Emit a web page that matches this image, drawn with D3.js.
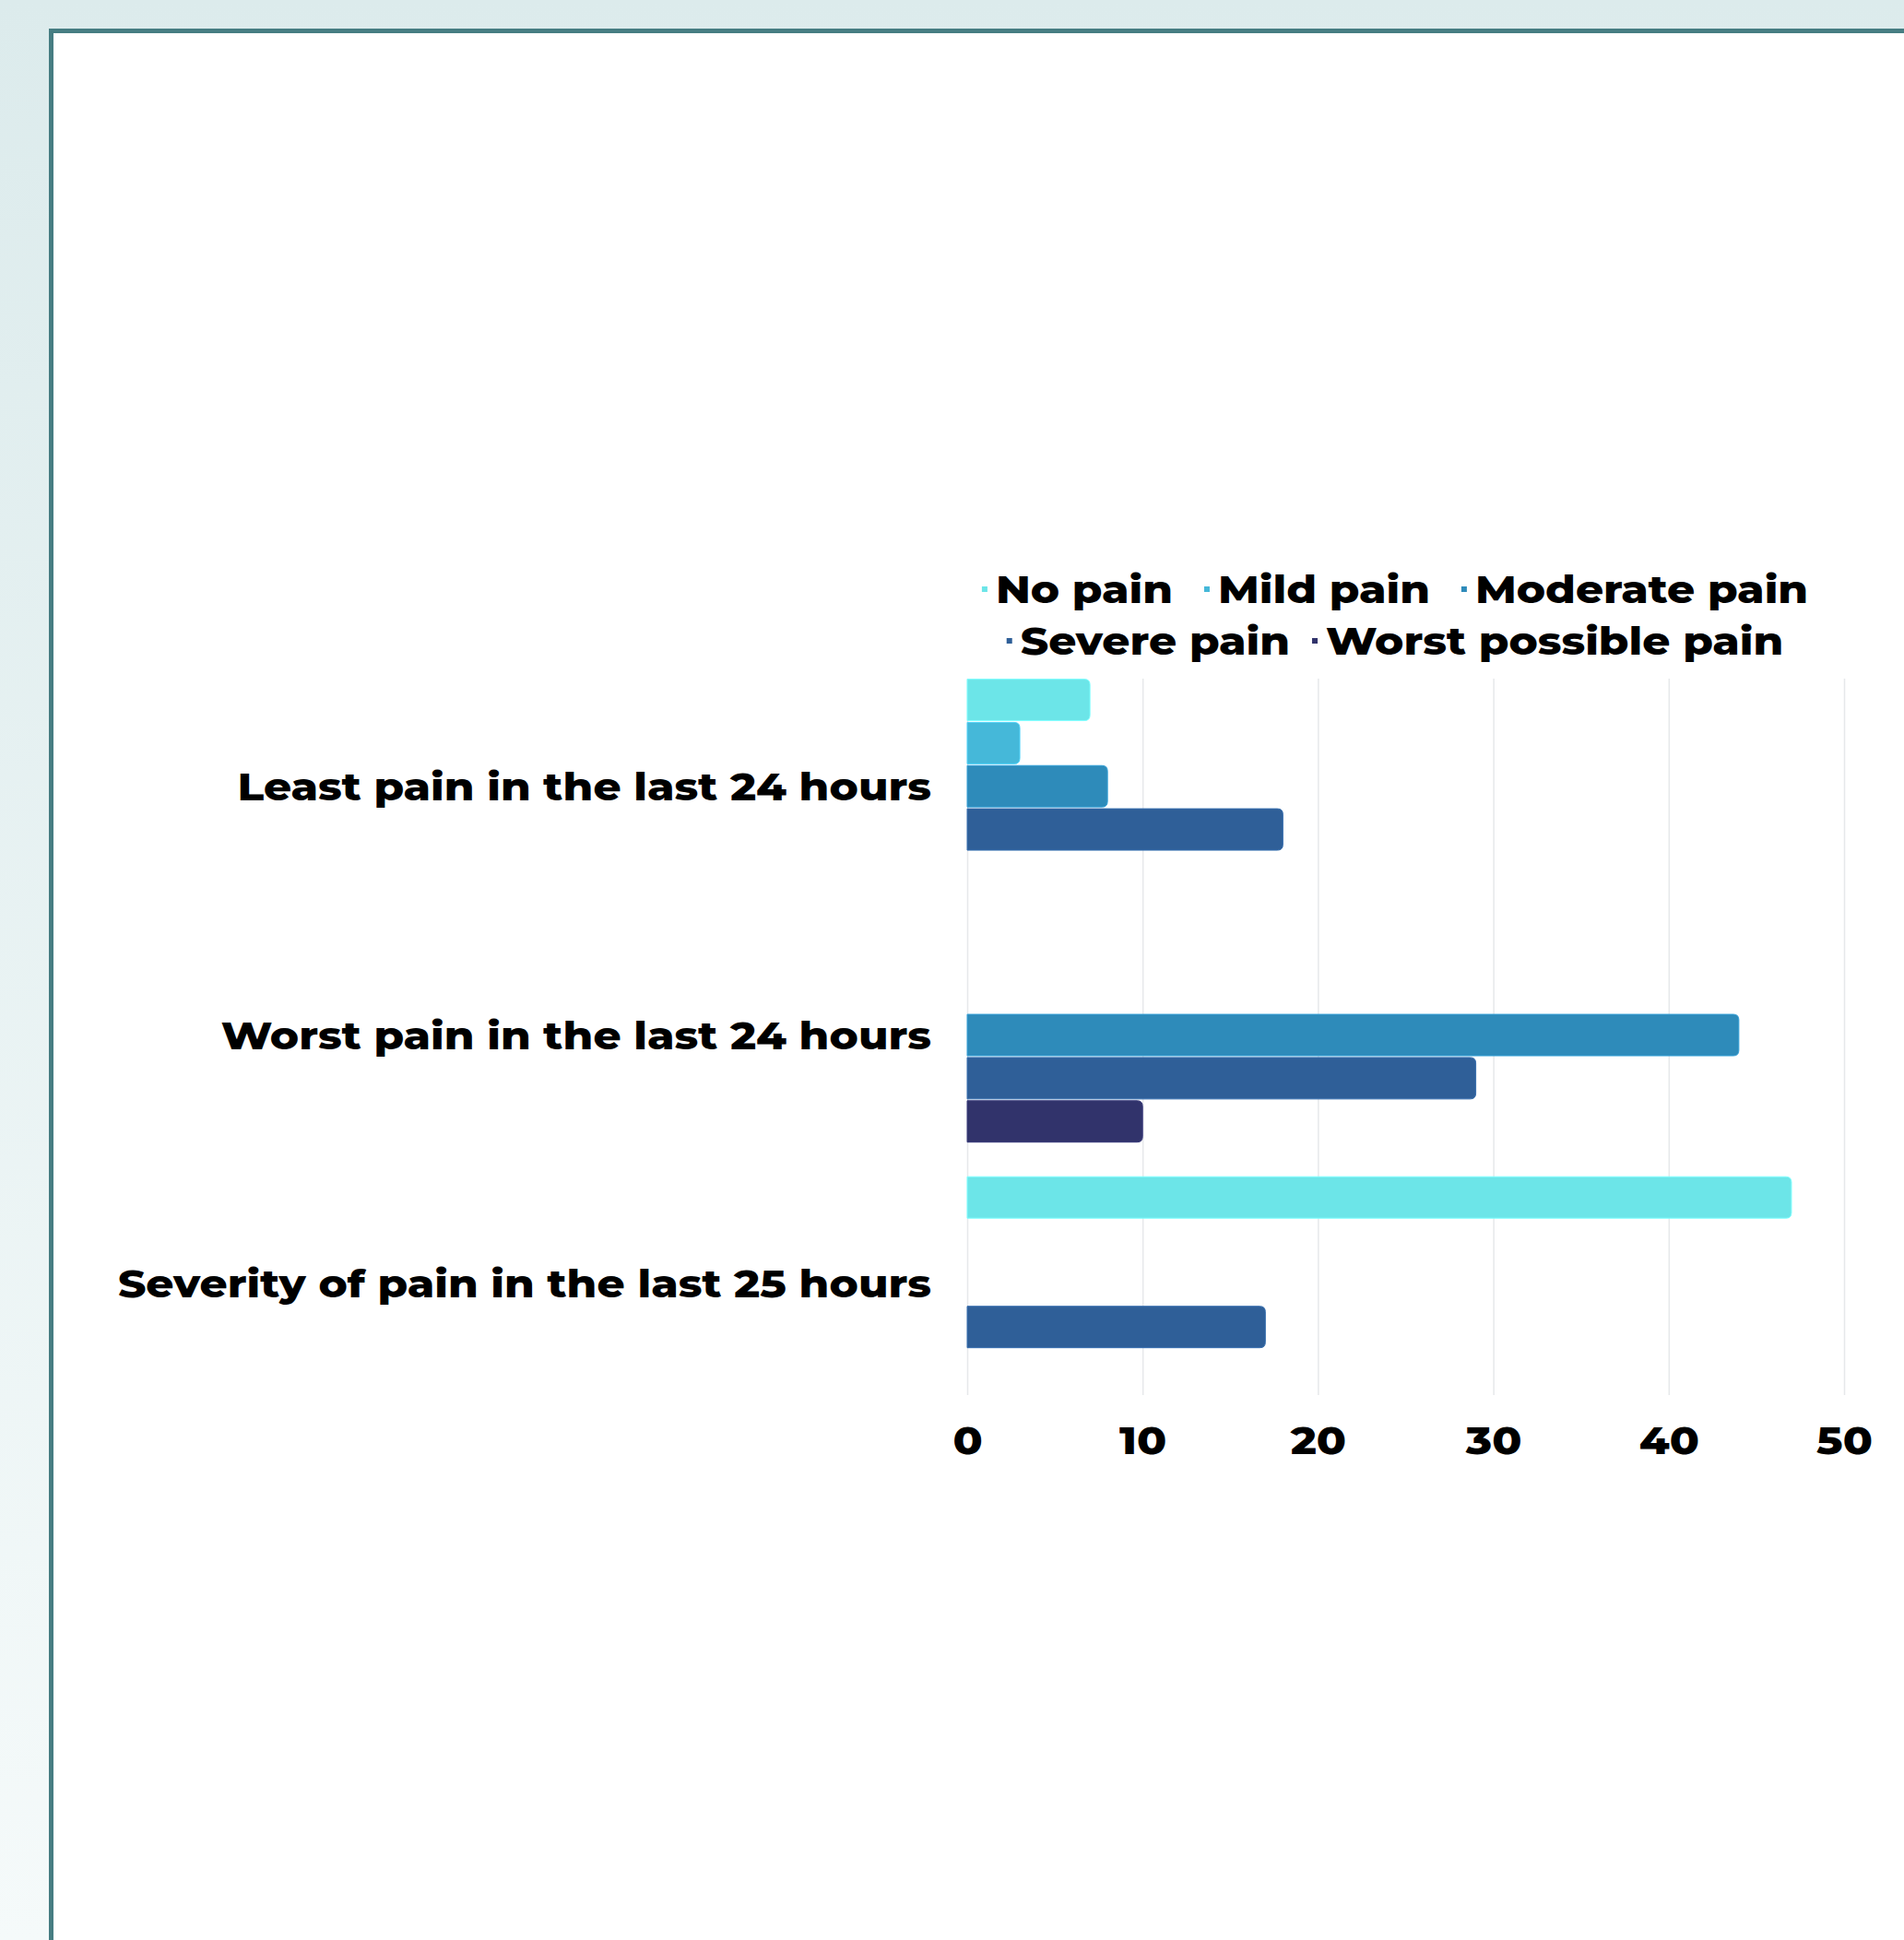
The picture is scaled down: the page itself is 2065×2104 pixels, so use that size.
<!DOCTYPE html>
<html>
<head>
<meta charset="utf-8">
<script src="https://cdn.jsdelivr.net/npm/d3@7"></script>
<style>
html,body{margin:0;padding:0;}
body{width:2065px;height:2104px;overflow:hidden;background:linear-gradient(to bottom,#dcebec 0%,#f5fafa 100%);}
svg{display:block;}
</style>
</head>
<body>
<svg id="chart" width="2065" height="2104"></svg>
<script>
const categories = ["Least pain in the last 24 hours", "Worst pain in the last 24 hours", "Severity of pain in the last 25 hours"];
const seriesNames = ["No pain", "Mild pain", "Moderate pain", "Severe pain", "Worst possible pain"];
const seriesColors = ["#6ce5e8", "#45b8d9", "#2e8bba", "#2f5f98", "#31336b"];
const noPain = [7, 0, 47];
const mildPain = [3, 0, 0];
const moderatePain = [8, 44, 0];
const severePain = [18, 29, 17];
const worstPossiblePain = [0, 10, 0];
const xTicks = [0, 10, 20, 30, 40, 50];

const seriesValues = [noPain, mildPain, moderatePain, severePain, worstPossiblePain];

const svg = d3.select("#chart");
const FONT = "Montserrat, Inter, 'Open Sans', sans-serif";
const FS = 42;
const SX = 1.12;

// Frame
svg.append("rect")
  .attr("x", 55.5).attr("y", 33.5)
  .attr("width", 2200).attr("height", 2200)
  .attr("fill", "#ffffff")
  .attr("stroke", "#467d82").attr("stroke-width", 5);

const x = d3.scaleLinear().domain([0, 50]).range([1049, 2000]);
const y0 = d3.scaleBand().domain(categories).range([736.6, 1508.5]).paddingInner(0.139).paddingOuter(0);
const y1 = d3.scaleBand().domain(seriesNames).range([0, y0.bandwidth()]).paddingInner(0.04);

// Gridlines
svg.append("g").selectAll("line").data(xTicks).join("line")
  .attr("x1", d => x(d) + 0.5).attr("x2", d => x(d) + 0.5)
  .attr("y1", 736).attr("y2", 1513)
  .attr("stroke", "#e6e8ea").attr("stroke-width", 1.5);

// Bars
const data = [];
categories.forEach((c, ci) => {
  seriesNames.forEach((s, si) => {
    data.push({cat: c, series: s, value: seriesValues[si][ci], color: seriesColors[si]});
  });
});

function barPath(d) {
  const x0 = x(0), x1 = x(d.value);
  const top = y0(d.cat) + y1(d.series);
  const h = y1.bandwidth();
  const r = Math.min(6, (x1 - x0) / 2, h / 2);
  return `M${x0},${top}H${x1 - r}Q${x1},${top} ${x1},${top + r}V${top + h - r}Q${x1},${top + h} ${x1 - r},${top + h}H${x0}Z`;
}

svg.append("g").selectAll("path").data(data.filter(d => d.value > 0)).join("path")
  .attr("d", barPath)
  .attr("fill", d => d.color)
  .attr("stroke", d => d3.color(d.color).brighter(0.4))
  .attr("stroke-width", 1);

function styleText(sel) {
  return sel.attr("font-family", FONT)
    .attr("font-weight", 800)
    .attr("font-size", FS)
    .attr("fill", "#000");
}

// Category labels
const catG = svg.append("g").selectAll("g").data(categories).join("g")
  .attr("transform", d => `translate(1010,${y0(d) + y0.bandwidth() / 2}) scale(${SX},1)`);
styleText(catG.append("text"))
  .attr("text-anchor", "end")
  .attr("dominant-baseline", "central")
  .text(d => d);

// X axis labels
const xAxis = d3.axisBottom(x).tickValues(xTicks).tickSize(0).tickPadding(0);
const gx = svg.append("g").attr("transform", "translate(0,1543)").call(xAxis);
gx.select(".domain").remove();
styleText(gx.selectAll("text"))
  .attr("transform", `scale(${SX},1)`)
  .attr("dy", "0.72em")
  .attr("y", 4);

// Legend
const legendRows = [[0, 1, 2], [3, 4]];
const legendGaps = [34, 24];
const legendY = [639, 695];
const legendCenter = 1513;
const legendG = svg.append("g");
legendRows.forEach((row, ri) => {
  const rowG = legendG.append("g");
  const gap = legendGaps[ri];
  let cx = 0;
  row.forEach((si) => {
    const item = rowG.append("g").attr("transform", `translate(${cx},0)`);
    item.append("rect").attr("x", 0).attr("y", -3).attr("width", 6).attr("height", 6)
      .attr("fill", seriesColors[si]);
    const t = styleText(item.append("text"))
      .attr("x", 0).attr("y", 0)
      .attr("transform", `translate(15,0) scale(${SX},1)`)
      .attr("dominant-baseline", "central")
      .text(seriesNames[si]);
    const w = t.node().getComputedTextLength() * SX;
    cx += 15 + w + gap;
  });
  const total = cx - gap;
  rowG.attr("transform", `translate(${legendCenter - total / 2},${legendY[ri]})`);
});
</script>
</body>
</html>
